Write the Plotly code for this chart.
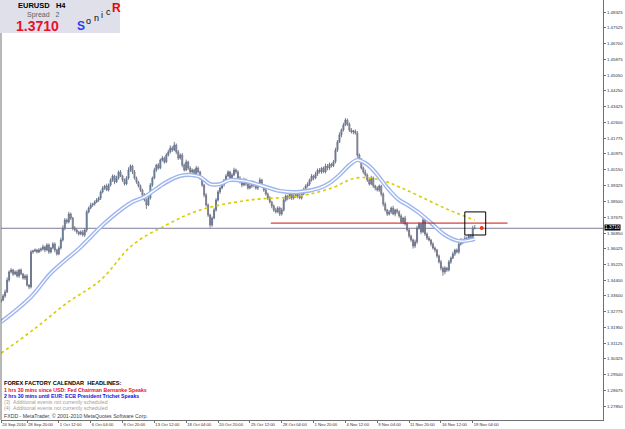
import plotly.graph_objects as go

# ---------------- data ----------------
close = [
    1.3337, 1.3358, 1.3379, 1.3441, 1.3483, 1.3493, 1.3472, 1.3483, 1.3462, 1.3493, 1.3472, 1.3451, 1.3462, 1.3415, 1.3405,
    1.3587, 1.3592, 1.3597, 1.3587, 1.3597, 1.3602, 1.3613, 1.3597, 1.3623, 1.3587, 1.3607, 1.3628, 1.3597, 1.3576, 1.3607, 1.3649,
    1.3711, 1.3753, 1.3743, 1.3784, 1.3763, 1.3711, 1.3701, 1.3691, 1.3680, 1.3691, 1.3675, 1.3701,
    1.3795, 1.3815, 1.3831, 1.3836, 1.3847, 1.3857, 1.3867,
    1.3899, 1.3919, 1.3930, 1.3909, 1.3935,
    1.3961, 1.3982, 1.3951, 1.3971, 1.4003, 1.3982, 1.3961, 1.3940, 1.3971, 1.4013, 1.4034, 1.4003, 1.3971, 1.3951, 1.3930,
    1.3909, 1.3883, 1.3857, 1.3831, 1.3867,
    1.3935, 1.3971, 1.4013, 1.4039, 1.4023, 1.4065, 1.4075, 1.4055, 1.4091, 1.4107,
    1.4127, 1.4117, 1.4143, 1.4107, 1.4075, 1.4091,
    1.4039, 1.4013, 1.4055, 1.4023, 1.4003, 1.4013, 1.3987, 1.4023, 1.4003, 1.3971,
    1.3935, 1.3883, 1.3831, 1.3779, 1.3727,
    1.3763, 1.3805, 1.3857,
    1.3899, 1.3919, 1.3935, 1.3961, 1.3982, 1.4003, 1.3971, 1.3987, 1.4013, 1.4003,
    1.3971, 1.3951, 1.3935, 1.3961, 1.3940, 1.3919, 1.3930, 1.3951, 1.3935, 1.3919, 1.3940, 1.3961, 1.3930, 1.3909, 1.3888,
    1.3867, 1.3847, 1.3826, 1.3805, 1.3795, 1.3815, 1.3784, 1.3805,
    1.3857, 1.3878, 1.3867, 1.3888, 1.3867, 1.3878, 1.3899, 1.3878, 1.3867, 1.3888, 1.3909, 1.3930, 1.3940,
    1.3961, 1.3982, 1.3971, 1.3992, 1.4013, 1.4003, 1.4023, 1.4003, 1.4034, 1.4023, 1.4044, 1.4034, 1.4055,
    1.4117, 1.4159, 1.4195, 1.4221, 1.4247, 1.4273, 1.4252,
    1.4221, 1.4211, 1.4216, 1.4205,
    1.4091, 1.4065,
    1.4023, 1.4003, 1.3987,
    1.3961, 1.3940, 1.3971, 1.3930, 1.3919,
    1.3909, 1.3930, 1.3888,
    1.3836, 1.3805, 1.3784,
    1.3795, 1.3815, 1.3784, 1.3805, 1.3795,
    1.3774, 1.3743, 1.3763, 1.3732,
    1.3701, 1.3670, 1.3649,
    1.3618, 1.3639,
    1.3711, 1.3732, 1.3691, 1.3753, 1.3680,
    1.3659, 1.3649, 1.3628,
    1.3607, 1.3597, 1.3566, 1.3535, 1.3503,
    1.3483, 1.3503, 1.3493,
    1.3535, 1.3555, 1.3576, 1.3597, 1.3587,
    1.3628, 1.3649, 1.3639, 1.3659, 1.3649, 1.3670,
    1.3649, 1.3711, 1.3710,
]
first_open = 1.3330

# wick sizes in pips (0.0001)
wick_up = [
    6, 10, 12, 14, 8, 10, 6, 8, 10, 6, 8, 6, 8, 10, 4,
    10, 6, 8, 6, 10, 8, 12, 6, 10, 8, 6, 10, 8, 6, 10, 12,
    14, 10, 8, 12, 8, 6, 10, 8, 6, 8, 10, 8,
    10, 8, 12, 6, 8, 10, 8,
    8, 10, 6, 12, 8,
    10, 8, 6, 12, 8, 10, 6, 8, 10, 14, 8, 6, 10, 8, 6,
    8, 6, 10, 8, 12,
    10, 8, 12, 6, 10, 8, 12, 8, 10, 12,
    14, 10, 16, 8, 10, 8,
    10, 8, 12, 6, 10, 8, 6, 12, 8, 6,
    8, 6, 10, 8, 6,
    8, 12, 10,
    10, 8, 12, 6, 10, 8, 6, 10, 12, 8,
    8, 10, 6, 12, 8, 6, 10, 8, 6, 10, 8, 12, 6, 8, 10,
    8, 10, 6, 8, 12, 10, 8, 12,
    10, 8, 6, 12, 8, 10, 6, 8, 10, 8, 12, 8, 10,
    8, 10, 6, 12, 8, 10, 6, 8, 12, 10, 8, 6, 10,
    12, 10, 14, 8, 12, 10, 8,
    8, 10, 6, 8,
    10, 8,
    10, 8, 12,
    8, 10, 12, 8, 6,
    10, 8, 6,
    8, 10, 6,
    10, 8, 12, 6, 8,
    8, 10, 6, 12,
    10, 8, 6,
    8, 12,
    12, 10, 8, 14, 8,
    8, 10, 6,
    10, 8, 6, 8, 10,
    8, 10, 6,
    10, 8, 12, 6, 8,
    8, 10, 6, 12, 8, 10,
    8, 12, 16,
]
wick_dn = [
    8, 6, 10, 6, 10, 8, 10, 6, 8, 10, 6, 8, 10, 8, 12,
    8, 10, 6, 8, 6, 10, 8, 12, 6, 10, 8, 6, 12, 8, 6, 8,
    8, 12, 10, 8, 10, 12, 8, 10, 8, 6, 8, 10,
    12, 8, 6, 10, 8, 6, 10,
    10, 8, 10, 6, 8,
    8, 10, 12, 6, 8, 6, 10, 8, 6, 8, 10, 12, 8, 10, 8,
    10, 12, 8, 20, 6,
    8, 10, 6, 10, 8, 6, 8, 10, 6, 8,
    8, 10, 6, 12, 10, 8,
    12, 8, 6, 10, 8, 10, 12, 6, 8, 10,
    10, 12, 8, 10, 14,
    10, 6, 8,
    8, 10, 6, 8, 10, 6, 12, 8, 6, 10,
    10, 8, 12, 6, 10, 8, 6, 10, 12, 8, 10, 6, 8, 10, 8,
    10, 8, 12, 10, 8, 6, 10, 8,
    8, 10, 12, 6, 10, 8, 10, 12, 6, 8, 6, 10, 8,
    10, 8, 12, 6, 10, 8, 10, 6, 8, 12, 10, 8, 6,
    8, 10, 6, 12, 8, 6, 10,
    10, 8, 12, 8,
    14, 12,
    8, 10, 8,
    10, 8, 6, 10, 12,
    8, 10, 12,
    12, 8, 10,
    8, 10, 6, 12, 10,
    10, 8, 12, 8,
    8, 12, 10,
    14, 10,
    10, 8, 12, 6, 10,
    10, 8, 12,
    8, 12, 10, 8, 12,
    20, 12, 10,
    8, 10, 6, 10, 8,
    10, 8, 12, 6, 10, 8,
    10, 8, 6,
]

# SonicR dragon (EMA band) read at sample bars
dragon_bar = [0, 15, 25, 40, 50, 60, 66, 72, 80, 85, 90, 95, 100, 105, 110, 115, 122, 130, 140, 150,
              160, 165, 170, 175, 179, 183, 187, 191, 195, 200, 205, 210, 216, 223, 230, 236, 238]
dragon_val = [1.3223, 1.3353, 1.3477, 1.3613, 1.3717, 1.3805, 1.3847, 1.3873, 1.3930, 1.3961, 1.3982, 1.3987,
              1.3977, 1.3940, 1.3940, 1.3961, 1.3956, 1.3935, 1.3904, 1.3899, 1.3919, 1.3945, 1.3987, 1.4039,
              1.4065, 1.4049, 1.4013, 1.3961, 1.3909, 1.3857, 1.3826, 1.3790, 1.3738, 1.3675, 1.3644, 1.3649, 1.3654]

# slow EMA (yellow) read at sample bars
slow_bar = [0, 16, 33, 50, 66, 83, 100, 125, 150, 166, 178, 191, 200, 211, 225, 238]
slow_val = [1.3061, 1.3181, 1.3321, 1.3441, 1.3623, 1.3727, 1.3805, 1.3857, 1.3878, 1.3919, 1.3971, 1.3961,
            1.3925, 1.3873, 1.3805, 1.3753]

current_price = 1.3710
level_price = 1.3737
box_bars = [233, 243.5]
box_prices = [1.3675, 1.3795]
marker_bar = 241.5

date_tick_bars = [0, 13, 29, 45, 61, 77, 93, 109, 125, 141, 157, 173, 189, 205, 221, 237]
date_tick_text = ["24 Sep 2010", "28 Sep 20:00", "1 Oct 12:00", "6 Oct 04:00", "8 Oct 20:00", "13 Oct 12:00",
                  "18 Oct 04:00", "20 Oct 20:00", "25 Oct 12:00", "28 Oct 04:00", "1 Nov 20:00", "4 Nov 12:00",
                  "9 Nov 04:00", "11 Nov 20:00", "16 Nov 12:00", "19 Nov 04:00"]

price_ticks = [1.48325, 1.47525, 1.46700, 1.45875, 1.45050, 1.44250, 1.43425, 1.42600, 1.41775, 1.40975,
               1.40150, 1.39325, 1.38500, 1.37675, 1.36850, 1.36025, 1.35225, 1.34400, 1.33600, 1.32775,
               1.31950, 1.31125, 1.30325, 1.29500, 1.28675, 1.27850]

headlines = [
    ("FOREX FACTORY CALENDAR  HEADLINES:", "#000000", True),
    ("1 hrs 30 mins since USD: Fed Chairman Bernanke Speaks", "#e8101c", True),
    ("2 hrs 30 mins until EUR: ECB President Trichet Speaks", "#1010e0", True),
    ("(3)  Additional events not currently scheduled", "#a0a0a0", False),
    ("(4)  Additional events not currently scheduled", "#a0a0a0", False),
]
copyright_text = "FXDD - MetaTrader, © 2001-2010 MetaQuotes Software Corp."

# ---------------- build ----------------
n = len(close)
bars = list(range(n))
opens = [first_open] + close[:-1]
highs = [max(o, c) + u * 0.0001 for o, c, u in zip(opens, close, wick_up)]
lows = [min(o, c) - d * 0.0001 for o, c, d in zip(opens, close, wick_dn)]

W, H = 625, 429
L, R, T, B = 1, 22, 0, 9
PW, PH = W - L - R, H - T - B


def pxx(x):
    return (x - L) / PW


def pyy(y):
    return 1 - (y - T) / PH


fig = go.Figure()

fig.add_trace(go.Scatter(x=slow_bar, y=slow_val, mode="lines", line_shape="spline",
                         line=dict(color="#d8cc00", width=1.6, dash="dot"), hoverinfo="skip"))
fig.add_trace(go.Scatter(x=dragon_bar, y=dragon_val, mode="lines", line_shape="spline",
                         line=dict(color="#9fb6ee", width=4.2), hoverinfo="skip"))
fig.add_trace(go.Scatter(x=dragon_bar, y=dragon_val, mode="lines", line_shape="spline",
                         line=dict(color="#ffffff", width=1.3), hoverinfo="skip"))

fig.add_trace(go.Candlestick(
    x=bars, open=opens, high=highs, low=lows, close=close,
    increasing=dict(line=dict(color="#6a7088", width=0.9), fillcolor="#3a9cc0"),
    decreasing=dict(line=dict(color="#727286", width=0.9), fillcolor="#b0b0bc"),
    whiskerwidth=0, hoverinfo="skip"))

shapes = []
# current price line
shapes.append(dict(type="line", xref="paper", x0=0, x1=1, yref="y", y0=current_price, y1=current_price,
                   line=dict(color="#7c7c94", width=1), layer="below"))
# level line
shapes.append(dict(type="line", xref="x", x0=135.5, x1=254.5, yref="y", y0=level_price, y1=level_price,
                   line=dict(color="#d01010", width=1)))
# box
shapes.append(dict(type="rect", xref="x", x0=box_bars[0], x1=box_bars[1], yref="y",
                   y0=box_prices[0], y1=box_prices[1], line=dict(color="#000000", width=1)))
# left border
shapes.append(dict(type="line", xref="paper", x0=0, x1=0, yref="paper", y0=0, y1=1,
                   line=dict(color="#707070", width=1)))
# info panel
shapes.append(dict(type="rect", xref="paper", yref="paper", x0=pxx(0), x1=pxx(120), y0=pyy(0), y1=pyy(33),
                   fillcolor="#dfe0ea", line=dict(width=0), layer="above"))

annotations = []


def txt(x, y, s, size, color, bold=False, family="Liberation Sans", anchor="left"):
    annotations.append(dict(xref="paper", yref="paper", x=pxx(x), y=pyy(y), text=("<b>%s</b>" % s) if bold else s,
                            showarrow=False, xanchor=anchor, yanchor="middle",
                            font=dict(size=size, color=color, family=family)))


txt(16, 6, "EURUSD   H4", 7.5, "#000000", True)
txt(25, 15, "Spread   2", 7, "#606060")
txt(14, 26, "1.3710", 14, "#e8102c", True)
txt(75, 26, "S", 12, "#2a3cf0", True)
txt(84, 21, "o", 9, "#000000")
txt(92, 18, "n", 9, "#000000")
txt(99, 15, "i", 9, "#000000")
txt(104, 12, "c", 9, "#000000")
txt(110, 8, "R", 12, "#f00000", True)

ys = [383, 390, 396, 402, 408]
sizes = [5.6, 5.2, 5.2, 5.2, 5.2]
for (s, c, b), y, sz in zip(headlines, ys, sizes):
    txt(2, y, s, sz, c, b)
txt(2, 416, copyright_text, 5.2, "#404040")

# current price tag
annotations.append(dict(xref="paper", yref="y", x=1, y=current_price + 0.0004, text="1.3710", showarrow=False,
                        xanchor="left", yanchor="middle", xshift=1, bgcolor="#000000",
                        font=dict(size=4.8, color="#ffffff", family="Liberation Sans"), borderpad=0))
# marker dot
fig.add_trace(go.Scatter(x=[marker_bar], y=[current_price + 0.0002], mode="markers",
                         marker=dict(color="#ff3010", size=4), hoverinfo="skip"))

r0 = -0.07
r1 = r0 + PW / 1.99

fig.update_layout(
    width=W, height=H, margin=dict(l=L, r=R, t=T, b=B, pad=0, autoexpand=False),
    paper_bgcolor="#ffffff", plot_bgcolor="#ffffff", showlegend=False,
    shapes=shapes, annotations=annotations,
    xaxis=dict(range=[r0, r1], rangeslider=dict(visible=False), showgrid=False, zeroline=False,
               tickmode="array", tickvals=date_tick_bars, ticktext=date_tick_text, tickangle=0,
               automargin=False,
               ticks="outside", ticklen=2, tickcolor="#707070", ticklabelposition="outside right",
               tickfont=dict(size=4.2, color="#303030", family="Liberation Sans"),
               showline=True, linecolor="#707070", linewidth=1),
    yaxis=dict(range=[1.2713, 1.4897], side="right", showgrid=False, zeroline=False, automargin=False,
               tickmode="array", tickvals=price_ticks, ticktext=["%.5f" % v for v in price_ticks],
               ticks="outside", ticklen=2, tickcolor="#707070", ticklabelstandoff=0,
               tickfont=dict(size=4.4, color="#303030", family="Liberation Sans"),
               showline=True, linecolor="#707070", linewidth=1),
)

fig.write_html("out.html")
